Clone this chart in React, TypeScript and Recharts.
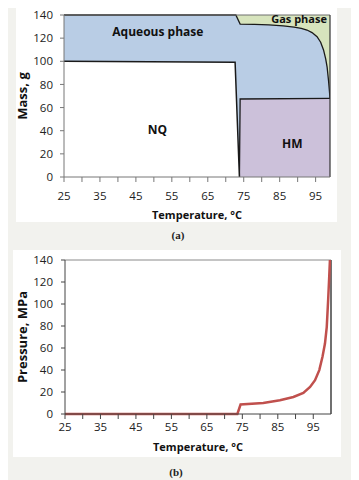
import React from 'react';
import { ComposedChart, Area, LineChart, Line, XAxis, YAxis, ReferenceLine, ReferenceDot } from 'recharts';

// ---- Chart (a): mass of phases vs temperature ----
const nqTemp = [25, 72.6, 73.8];
const nqMass = [100, 99.1, 0];

const hmTemp = [73.8, 74.0, 99];
const hmMass = [0, 67.4, 67.9];

const totalTemp = [25, 72.8, 74.0, 78, 82, 86, 89, 91, 92.6, 94, 95.4, 96.4, 97.2, 97.8, 98.2, 98.6, 98.85, 99];
const totalMass = [140, 140, 132.2, 131.9, 131.4, 130.6, 129.6, 128.5, 127, 124.8, 121.3, 116.5, 109.8, 102, 95, 83, 74, 67.9];

const gasTemp = [25, 99];
const gasMass = [140, 140];

const massTicks = [0, 20, 40, 60, 80, 100, 120, 140];
const tempTicks = [25, 30, 35, 40, 45, 50, 55, 60, 65, 70, 75, 80, 85, 90, 95];

// ---- Chart (b): pressure vs temperature ----
const presTemp = [25, 73.6, 74.5, 80.9, 85.6, 89.4, 92.2, 94.1, 95.5, 96.7, 97.6, 98.3, 98.8, 99.2, 99.5, 99.7];
const presVal = [0, 0, 8.6, 10.1, 12.5, 15.5, 19.2, 24.6, 30.7, 39.9, 52, 64, 79, 104, 125, 140];
const presTicks = [0, 20, 40, 60, 80, 100, 120, 140];

const FONT = '"Open Sans", "Liberation Sans", sans-serif';

function buildRows() {
  const all = Array.from(new Set([...nqTemp, ...hmTemp, ...totalTemp, ...gasTemp])).sort((a, b) => a - b);
  const pick = (ts: number[], vs: number[], t: number) => {
    const i = ts.indexOf(t);
    return i >= 0 ? vs[i] : null;
  };
  return all.map((t) => ({
    t,
    nq: pick(nqTemp, nqMass, t),
    hm: pick(hmTemp, hmMass, t),
    total: pick(totalTemp, totalMass, t),
    gas: pick(gasTemp, gasMass, t),
  }));
}

const rowsA = buildRows();
const rowsB = presTemp.map((t, i) => ({ t, p: presVal[i] }));

const tickFmt = (v: number) => (v % 10 === 5 ? String(v) : '');

const tickStyle = { fill: '#222', fontSize: 11.5, fontFamily: FONT };
const labelText = (value: string, fontSize = 12) => ({
  value,
  position: 'center' as const,
  fill: '#111',
  fontSize,
  fontWeight: 700,
  fontFamily: FONT,
});

export default function App() {
  return (
    <div style={{ position: 'relative', marginLeft: -8, marginTop: -8, width: 359, height: 480, background: '#f2f2ee', overflow: 'hidden' }}>
      {/* Panel (a) */}
      <div style={{ position: 'absolute', left: 16, top: 5, width: 321, height: 217, background: '#ffffff' }} />
      <div style={{ position: 'absolute', left: 0, top: 5 }}>
        <ComposedChart width={337} height={217} data={rowsA} margin={{ top: 10, right: 7, left: 16, bottom: 0 }}>
          <XAxis
            dataKey="t"
            type="number"
            domain={[25, 99]}
            ticks={tempTicks}
            tickFormatter={tickFmt}
            allowDataOverflow
            height={45}
            tickSize={5}
            tickMargin={10}
            stroke="#777"
            tick={tickStyle}
            label={{ value: 'Temperature, °C', position: 'insideBottom', offset: 3, fontSize: 11, fontWeight: 700, fill: '#111', fontFamily: FONT }}
          />
          <YAxis
            type="number"
            domain={[0, 140]}
            ticks={massTicks}
            width={48}
            tickSize={4}
            tickMargin={7}
            stroke="#777"
            tick={tickStyle}
            label={{ value: 'Mass, g', angle: -90, position: 'insideLeft', offset: 6, fontSize: 13, fontWeight: 700, fill: '#111', fontFamily: FONT, style: { textAnchor: 'middle' } }}
          />
          <Area dataKey="gas" type="linear" connectNulls fill="#d7e4bd" fillOpacity={1} stroke="none" isAnimationActive={false} />
          <Area dataKey="total" type="linear" connectNulls fill="#b9cde5" fillOpacity={1} stroke="#1a1a1a" strokeWidth={1.3} isAnimationActive={false} />
          <Area dataKey="hm" type="linear" connectNulls fill="#ccc1da" fillOpacity={1} stroke="#1a1a1a" strokeWidth={1.3} isAnimationActive={false} />
          <Area dataKey="nq" type="linear" connectNulls fill="#ffffff" fillOpacity={1} stroke="#1a1a1a" strokeWidth={1.5} isAnimationActive={false} />
          <ReferenceLine y={140} stroke="#6e6e6e" ifOverflow="visible" />
          <ReferenceLine x={99} stroke="#333" strokeWidth={1.2} ifOverflow="visible" />
          <ReferenceDot x={51.1} y={125.6} r={0} fill="none" stroke="none" label={labelText('Aqueous phase', 12)} />
          <ReferenceDot x={51} y={40.6} r={0} fill="none" stroke="none" label={labelText('NQ', 12)} />
          <ReferenceDot x={88.5} y={28.5} r={0} fill="none" stroke="none" label={labelText('HM', 12)} />
          <ReferenceDot x={90.4} y={136.6} r={0} fill="none" stroke="none" label={labelText('Gas phase', 11)} />
        </ComposedChart>
      </div>
      <div style={{ position: 'absolute', left: 163, top: 228, width: 30, textAlign: 'center', fontFamily: '"Liberation Serif", serif', fontWeight: 700, fontSize: 11, lineHeight: '15px', color: '#222' }}>(a)</div>

      {/* Panel (b) */}
      <div style={{ position: 'absolute', left: 13, top: 250, width: 328, height: 207, background: '#ffffff' }} />
      <div style={{ position: 'absolute', left: 0, top: 250 }}>
        <LineChart width={341} height={207} data={rowsB} margin={{ top: 10, right: 10, left: 13, bottom: 0 }}>
          <XAxis
            dataKey="t"
            type="number"
            domain={[25, 100]}
            ticks={tempTicks}
            tickFormatter={tickFmt}
            allowDataOverflow
            height={43}
            tickSize={5}
            tickMargin={4}
            stroke="#444"
            tick={tickStyle}
            label={{ value: 'Temperature, °C', position: 'insideBottom', offset: 6, fontSize: 11, fontWeight: 700, fill: '#111', fontFamily: FONT }}
          />
          <YAxis
            type="number"
            domain={[0, 140]}
            ticks={presTicks}
            width={52}
            tickSize={4}
            tickMargin={8}
            stroke="#444"
            tick={tickStyle}
            label={{ value: 'Pressure, MPa', angle: -90, position: 'insideLeft', offset: 9, fontSize: 13, fontWeight: 700, fill: '#111', fontFamily: FONT, style: { textAnchor: 'middle' } }}
          />
          <ReferenceLine y={140} stroke="#8a8a8a" ifOverflow="visible" />
          <ReferenceLine x={100} stroke="#111" strokeWidth={1.2} ifOverflow="visible" />
          <Line dataKey="p" type="linear" stroke="#c0504d" strokeWidth={2.5} dot={false} isAnimationActive={false} />
        </LineChart>
      </div>
      <div style={{ position: 'absolute', left: 161, top: 465, width: 30, textAlign: 'center', fontFamily: '"Liberation Serif", serif', fontWeight: 700, fontSize: 11, lineHeight: '15px', color: '#222' }}>(b)</div>
    </div>
  );
}
